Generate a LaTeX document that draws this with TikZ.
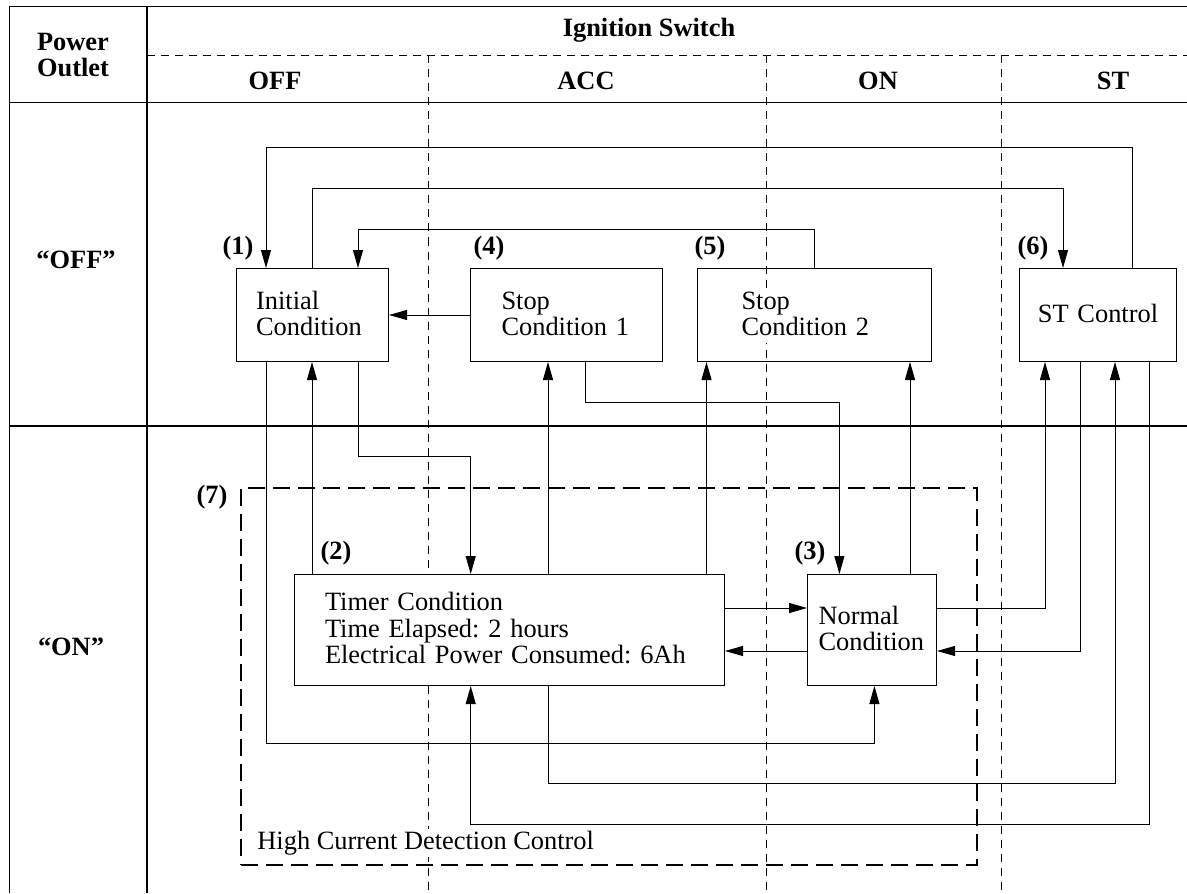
\documentclass[tikz,border=0pt]{standalone}
\usepackage{fontspec}
\setmainfont{Liberation Serif}
\usetikzlibrary{arrows.meta}
\setlength{\fboxsep}{0pt}
\frenchspacing
\newcommand{\diagfont}{\fontsize{13.2}{13.2}\selectfont}
\newcommand{\condtext}[1]{\raisebox{-1pt}[\height][\depth]{\colorbox{white}{\begin{tabular}{@{}l@{}}#1\end{tabular}}}}

\begin{document}
\begin{tikzpicture}[x=0.5pt,y=-0.5pt,
  every node/.style={font=\diagfont},
  cond/.style={draw,line width=0.5pt,align=left,anchor=north west,inner ysep=0pt,minimum height=46.5pt},
  lbl/.style={font=\diagfont\bfseries},
  arr/.style={line width=0.5pt,-{Triangle[length=9pt,width=5pt]}},
  zone/.style={line width=0.5pt,dash pattern=on 4pt off 3pt},
  hcd/.style={line width=1.15pt,dash pattern=on 8.5pt off 4pt}]
\useasboundingbox (0,0) rectangle (1187,893);
% table frame
\draw[line width=0.6pt] (1187,6.5) -- (9.5,6.5) -- (9.5,893);
\draw[line width=0.6pt] (147,6.5) -- (147,893);
\draw[line width=0.6pt] (9.5,102.5) -- (1187,102.5);
\draw[line width=0.6pt] (9.5,426) -- (1187,426);
\draw[zone] (147,55.5) -- (1187,55.5);
\foreach \x in {428,766,1001}
  \draw[zone] (\x,55.5) -- (\x,893);
% headings
\node[lbl,align=center] (outlet) at (73,55) {Power\\Outlet};
\node[lbl] (ignition) at (649,30) {Ignition Switch};
\node[lbl] (swoff) at (275,81) {OFF};
\node[lbl] (swacc) at (586,81) {ACC};
\node[lbl] (swon) at (878,81) {ON};
\node[lbl] (swst) at (1113,81) {ST};
\node[lbl] (rowoff) at (76,260) {“OFF”};
\node[lbl] (rowon) at (71,647) {“ON”};
% high current detection area
\node[draw,hcd,anchor=north west,minimum width=368pt,minimum height=188.5pt] (hcdbox) at (240,487) {};
\node[fill=white,inner sep=1pt,anchor=west] (hcdlabel) at (255,843) {High Current Detection Control};
% conditions
\node[cond,text width=56.4pt,inner xsep=9.8pt] (init) at (236,268) {\condtext{Initial\\Condition}};
\node[cond,text width=65pt,inner xsep=15.5pt] (stopa) at (470,268) {\condtext{Stop\\Condition 1}};
\node[cond,text width=73pt,inner xsep=22pt] (stopb) at (697,268) {\condtext{Stop\\Condition 2}};
\node[cond,text width=78.5pt,inner xsep=0pt,align=center] (stc) at (1019,268) {\condtext{ST Control}};
\node[cond,fill=white,text width=184.5pt,inner xsep=15.25pt,minimum height=55.5pt] (timer) at (294,574) {\condtext{Timer Condition\\Time Elapsed: 2 hours\\Electrical Power Consumed: 6Ah}};
\node[cond,text width=53.5pt,inner xsep=5.5pt,minimum height=55.5pt] (normal) at (807,574) {\condtext{Normal\\Condition}};
% numbers
\node[lbl] (n1) at (238,248) {(1)};
\node[lbl] (n4) at (489,248) {(4)};
\node[lbl] (n5) at (710,248) {(5)};
\node[lbl] (n6) at (1033,248) {(6)};
\node[lbl] (n2) at (336,553) {(2)};
\node[lbl] (n3) at (810,553) {(3)};
\node[lbl] (n7) at (212,497) {(7)};
% transitions
\draw[arr] ([xshift=56.5pt]stc.north west) -- ++(0,-120) -| ([xshift=15pt]init.north west);
\draw[arr] ([xshift=38pt]init.north west) -- ++(0,-79) -| ([xshift=22pt]stc.north west);
\draw[arr] ([xshift=58.5pt]stopb.north west) -- ++(0,-38.5) -| ([xshift=61pt]init.north west);
\draw[arr] (stopa.west) -- (init.east);
\draw[arr] ([xshift=15pt]init.south west) -- ++(0,381) -| ([xshift=33.7pt]normal.south west);
\draw[arr] ([xshift=9pt]timer.north west) -- ([xshift=38pt]init.south west);
\draw[arr] ([xshift=61pt]init.south west) -- ++(0,94) -| ([xshift=88.35pt]timer.north west);
\draw[arr] ([xshift=127pt]timer.north west) -- ([xshift=39pt]stopa.south west);
\draw[arr] ([xshift=57.5pt]stopa.south west) -- ++(0,40) -| ([xshift=16.2pt]normal.north west);
\draw[arr] ([xshift=206.25pt]timer.north west) -- ([xshift=4.75pt]stopb.south west);
\draw[arr] ([xshift=51.5pt]normal.north west) -- ([xshift=106.5pt]stopb.south west);
\draw[arr] ([yshift=-17pt]timer.north east) -- ([yshift=-17pt]normal.north west);
\draw[arr] ([yshift=-38.5pt]normal.north west) -- ([yshift=-38.5pt]timer.north east);
\draw[arr] ([yshift=-17pt]normal.north east) -| ([xshift=13pt]stc.south west);
\draw[arr] ([xshift=30.5pt]stc.south west) |- ([yshift=-38.5pt]normal.north east);
\draw[arr] ([xshift=127pt]timer.south west) -- ++(0,97) -| ([xshift=48pt]stc.south west);
\draw[arr] ([xshift=65pt]stc.south west) -- ++(0,462) -| ([xshift=88.35pt]timer.south west);
\end{tikzpicture}
\end{document}
